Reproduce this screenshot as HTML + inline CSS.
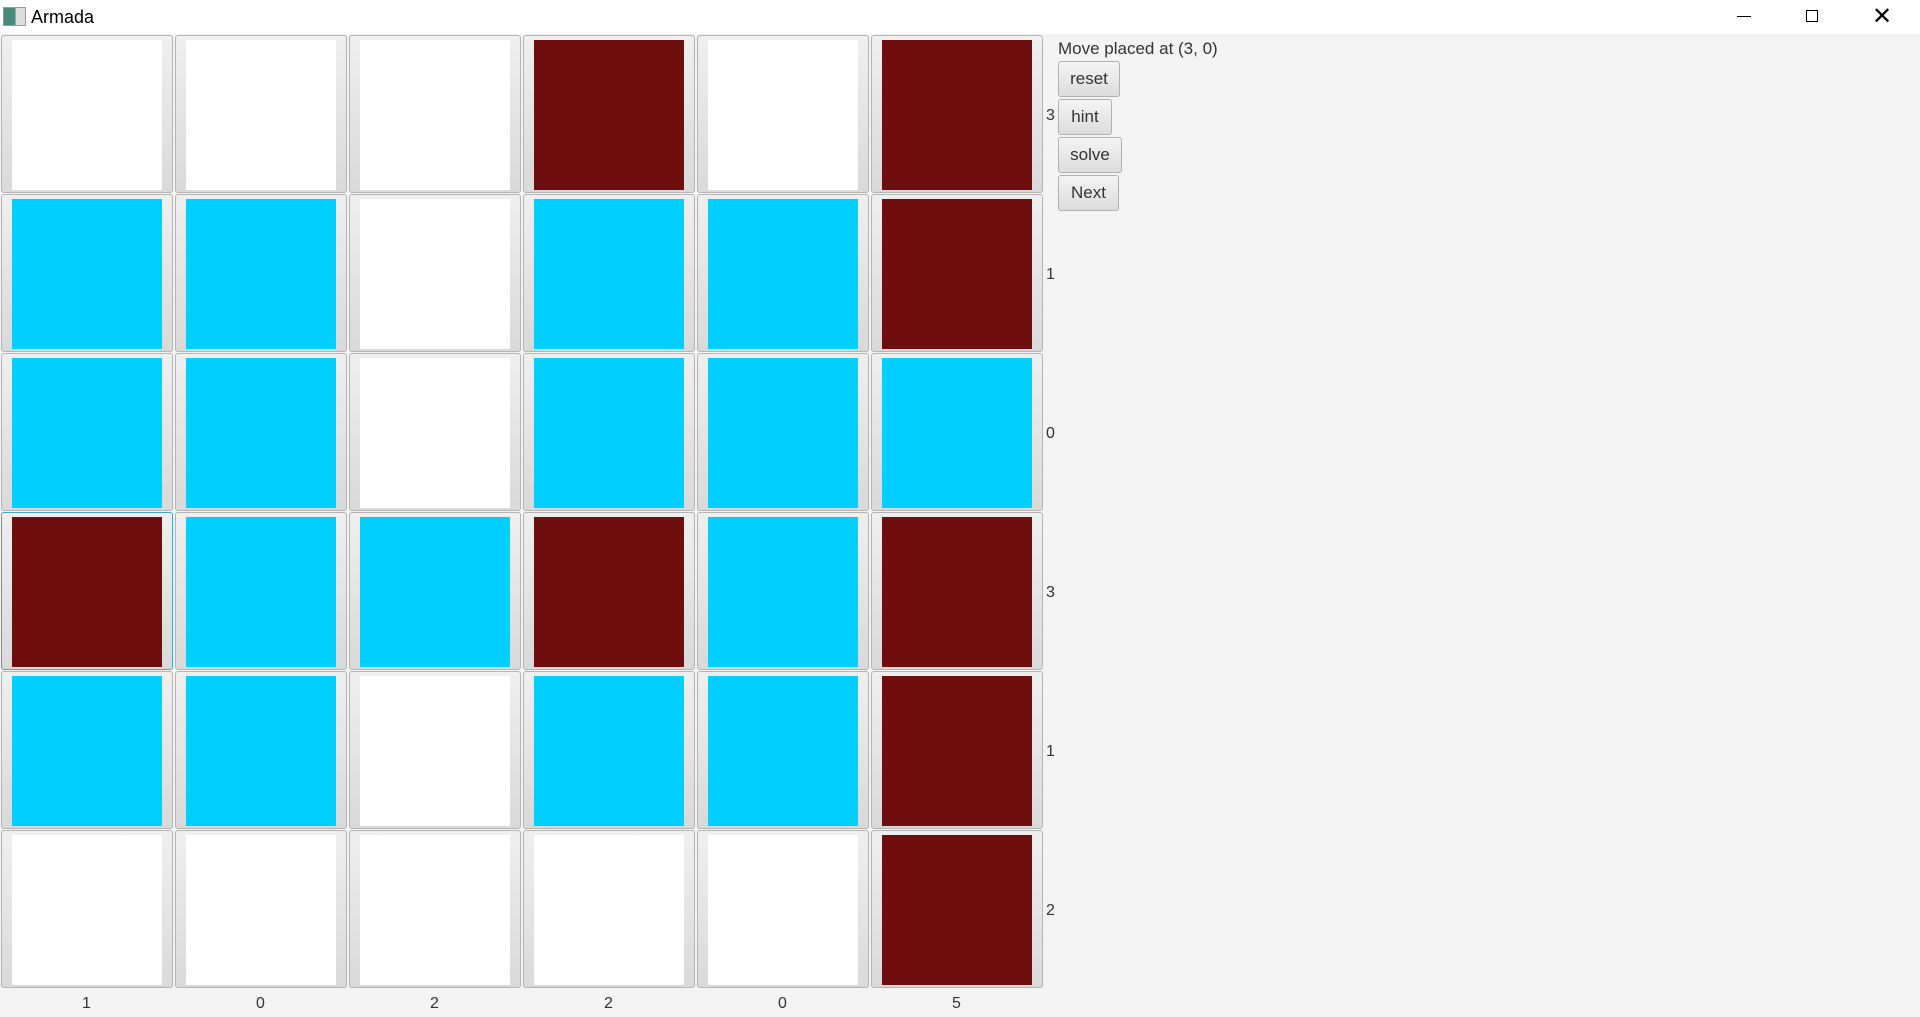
<!DOCTYPE html>
<html><head><style>
body{margin:0;width:1920px;height:1017px;background:#f3f3f3;position:relative;overflow:hidden;font-family:"Liberation Sans",sans-serif}
.tb{position:absolute;left:0;top:0;width:1920px;height:34px;background:#fff}
.c{position:absolute;width:172px;height:158px;border:1px solid #b4b4b4;border-radius:3px;background:linear-gradient(#efefef,#d9d9d9);box-sizing:border-box}
.c i{position:absolute;left:10px;top:4px;width:150px;height:150px;background:#fff}
.R i{background:#6e0e0e}.C i{background:#00cfff}
.l{position:absolute;font-size:16px;color:#333}
.b{position:absolute;left:1058px;height:36px;border:1px solid #b0b0b0;border-radius:3px;background:linear-gradient(#f4f4f4,#dcdcdc);box-sizing:border-box;font-size:17px;color:#333;text-align:center;line-height:34px}
</style></head><body>
<div class="tb"><div style="position:absolute;left:3px;top:7px;width:21px;height:17px;border:1px solid #999;background:linear-gradient(90deg,#4a8a7a 55%,#ddd 55%)"></div>
<div style="position:absolute;left:31px;top:7px;font-size:18px">Armada</div>
<div style="position:absolute;left:1737px;top:16px;width:14px;height:1px;background:#000"></div>
<div style="position:absolute;left:1806px;top:10px;width:10px;height:10px;border:1px solid #000"></div>
<div style="position:absolute;left:1872px;top:2px;font-size:24px">✕</div></div>
<div id="g"></div>
<div class="l" style="left:1058px;top:39px;font-size:17px">Move placed at (3, 0)</div>
<div class="b" style="top:61px;width:62px">reset</div>
<div class="b" style="top:99px;width:54px">hint</div>
<div class="b" style="top:137px;width:64px">solve</div>
<div class="b" style="top:175px;width:61px">Next</div>
<script>
var g=["WWWRWR","CCWCCR","CCWCCC","RCCRCR","CCWCCR","WWWWWR"],h="";
var rl=[3,1,0,3,1,2],cl=[1,0,2,2,0,5];
for(var r=0;r<6;r++){for(var c=0;c<6;c++){h+='<div class="c '+g[r][c]+'" style="left:'+(1+174*c)+'px;top:'+(35+159*r)+'px'+(r==3&&c==0?';border-color:#4aa0d0':'')+'"><i></i></div>';}
h+='<div class="l" style="left:1046px;top:'+(107+159*r)+'px">'+rl[r]+'</div>';}
for(var c=0;c<6;c++)h+='<div class="l" style="left:'+(82+174*c)+'px;top:995px">'+cl[c]+'</div>';
document.getElementById("g").innerHTML=h;
</script>
</body></html>
